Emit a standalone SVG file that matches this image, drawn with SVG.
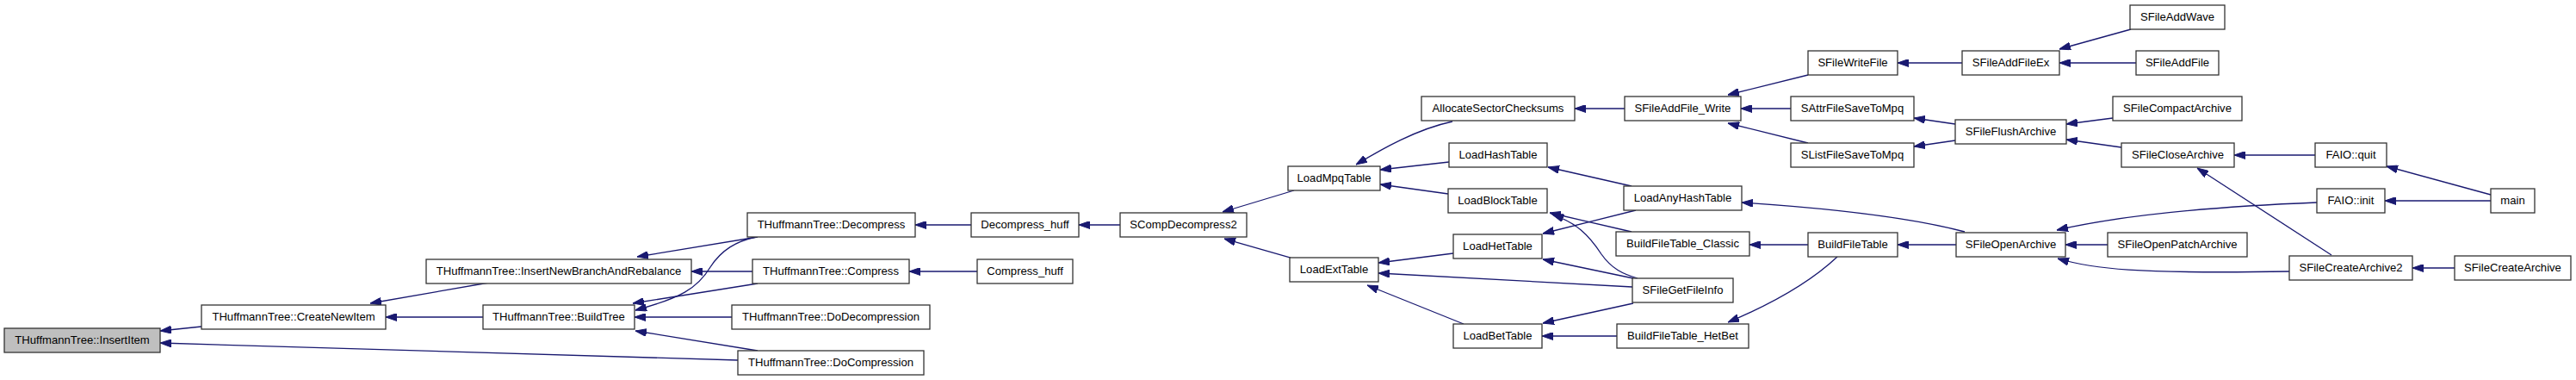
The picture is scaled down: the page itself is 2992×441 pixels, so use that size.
<svg xmlns="http://www.w3.org/2000/svg" width="2992" height="441" viewBox="0 0 2992 441">
<style>
.n rect{fill:#ffffff;stroke:#333333;stroke-width:1.3}
.root rect{fill:#bfbfbf}
.n text{font-family:"Liberation Sans",Arial,sans-serif;font-size:13.1px;fill:#000000;text-anchor:middle}
#edges path{fill:none;stroke:#191970;stroke-width:1.3;marker-start:url(#ah)}
</style>
<defs>
<marker id="ah" viewBox="0 0 13 9" markerWidth="13" markerHeight="9" refX="13" refY="4.5" orient="auto-start-reverse" markerUnits="userSpaceOnUse">
<path d="M0,0 L13,4.5 L0,9 z" fill="#191970" stroke="#191970" stroke-width="1"/>
</marker>
</defs>
<rect width="2992" height="441" fill="#ffffff"/>
<g id="edges">
<path d="M186,384 L234,379"/>
<path d="M186,398 L857,418"/>
<path d="M430,352 L568,328"/>
<path d="M448,368 L561,368"/>
<path d="M740,298 L880,275"/>
<path d="M803,315 L874,315"/>
<path d="M738,360 C790,346 810,335 825,310 C838,290 855,280 878,275"/>
<path d="M735,352 L880,329"/>
<path d="M737,368 L850,368"/>
<path d="M738,384 L880,407"/>
<path d="M1063,261 L1128,261"/>
<path d="M1056,315 L1135,315"/>
<path d="M1253,261 L1301,261"/>
<path d="M1420,246 L1503,221"/>
<path d="M1422,277 L1499,299"/>
<path d="M1575,191 C1605,173 1645,150 1687,141"/>
<path d="M1603,197 L1683,188"/>
<path d="M1603,214 L1682,225"/>
<path d="M1601,305 L1688,294"/>
<path d="M1601,317 L1896,333"/>
<path d="M1588,331 L1700,376"/>
<path d="M1798,194 L1895,216"/>
<path d="M1800,247 L1895,269"/>
<path d="M1803,249 C1830,258 1845,272 1860,295 C1872,312 1885,318 1902,323"/>
<path d="M1792,271 L1900,244"/>
<path d="M1792,301 L1897,323"/>
<path d="M1792,375 L1897,352"/>
<path d="M1791,390 L1878,390"/>
<path d="M1829,126 L1887,126"/>
<path d="M2007,110 L2100,87"/>
<path d="M2022,126 L2080,126"/>
<path d="M2007,143 L2100,166"/>
<path d="M2204,73 L2279,73"/>
<path d="M2223,137 L2271,144"/>
<path d="M2223,170 L2271,163"/>
<path d="M2392,57 L2475,34"/>
<path d="M2392,73 L2481,73"/>
<path d="M2400,144 L2454,137"/>
<path d="M2400,162 L2464,171"/>
<path d="M2595,180 L2689,180"/>
<path d="M2552,195 L2708,296"/>
<path d="M2772,193 L2893,226"/>
<path d="M2770,233 L2893,233"/>
<path d="M2389,267 C2450,253 2540,241 2691,235"/>
<path d="M2399,284 L2448,284"/>
<path d="M2390,300 C2430,312 2480,318 2659,315"/>
<path d="M2802,311 L2851,311"/>
<path d="M2023,235 C2100,240 2210,250 2282,269"/>
<path d="M2032,284 L2100,284"/>
<path d="M2204,284 L2272,284"/>
<path d="M2007,374 C2050,356 2100,330 2134,298"/>
</g>
<g id="n_InsertItem" class="n root"><rect x="5" y="381" width="181" height="28"/><text x="95.5" y="399">THuffmannTree::InsertItem</text></g>
<g id="n_CreateNewItem" class="n"><rect x="234" y="354" width="214" height="28"/><text x="341" y="372">THuffmannTree::CreateNewItem</text></g>
<g id="n_InsertNewBranchAndRebalance" class="n"><rect x="495" y="301" width="308" height="28"/><text x="649" y="319">THuffmannTree::InsertNewBranchAndRebalance</text></g>
<g id="n_BuildTree" class="n"><rect x="561" y="354" width="176" height="28"/><text x="649" y="372">THuffmannTree::BuildTree</text></g>
<g id="n_Decompress" class="n"><rect x="868" y="247" width="195" height="28"/><text x="965.5" y="265">THuffmannTree::Decompress</text></g>
<g id="n_Compress" class="n"><rect x="874" y="301" width="182" height="28"/><text x="965" y="319">THuffmannTree::Compress</text></g>
<g id="n_DoDecompression" class="n"><rect x="850" y="354" width="230" height="28"/><text x="965" y="372">THuffmannTree::DoDecompression</text></g>
<g id="n_DoCompression" class="n"><rect x="857" y="407" width="216" height="28"/><text x="965" y="425">THuffmannTree::DoCompression</text></g>
<g id="n_Decompress_huff" class="n"><rect x="1128" y="247" width="125" height="28"/><text x="1190.5" y="265">Decompress_huff</text></g>
<g id="n_Compress_huff" class="n"><rect x="1135" y="301" width="111" height="28"/><text x="1190.5" y="319">Compress_huff</text></g>
<g id="n_SCompDecompress2" class="n"><rect x="1301" y="247" width="147" height="28"/><text x="1374.5" y="265">SCompDecompress2</text></g>
<g id="n_LoadMpqTable" class="n"><rect x="1496" y="193" width="107" height="28"/><text x="1549.5" y="211">LoadMpqTable</text></g>
<g id="n_LoadExtTable" class="n"><rect x="1498" y="299" width="103" height="28"/><text x="1549.5" y="317">LoadExtTable</text></g>
<g id="n_AllocateSectorChecksums" class="n"><rect x="1651" y="112" width="178" height="28"/><text x="1740" y="130">AllocateSectorChecksums</text></g>
<g id="n_LoadHashTable" class="n"><rect x="1683" y="166" width="114" height="28"/><text x="1740" y="184">LoadHashTable</text></g>
<g id="n_LoadBlockTable" class="n"><rect x="1682" y="219" width="115" height="28"/><text x="1739.5" y="237">LoadBlockTable</text></g>
<g id="n_LoadHetTable" class="n"><rect x="1688" y="272" width="103" height="28"/><text x="1739.5" y="290">LoadHetTable</text></g>
<g id="n_LoadBetTable" class="n"><rect x="1688" y="376" width="103" height="28"/><text x="1739.5" y="394">LoadBetTable</text></g>
<g id="n_SFileAddFile_Write" class="n"><rect x="1887" y="112" width="135" height="28"/><text x="1954.5" y="130">SFileAddFile_Write</text></g>
<g id="n_LoadAnyHashTable" class="n"><rect x="1886" y="216" width="137" height="28"/><text x="1954.5" y="234">LoadAnyHashTable</text></g>
<g id="n_BuildFileTable_Classic" class="n"><rect x="1877" y="269" width="155" height="28"/><text x="1954.5" y="287">BuildFileTable_Classic</text></g>
<g id="n_SFileGetFileInfo" class="n"><rect x="1896" y="323" width="117" height="28"/><text x="1954.5" y="341">SFileGetFileInfo</text></g>
<g id="n_BuildFileTable_HetBet" class="n"><rect x="1878" y="376" width="153" height="28"/><text x="1954.5" y="394">BuildFileTable_HetBet</text></g>
<g id="n_SFileWriteFile" class="n"><rect x="2100" y="59" width="104" height="28"/><text x="2152" y="77">SFileWriteFile</text></g>
<g id="n_SAttrFileSaveToMpq" class="n"><rect x="2080" y="112" width="143" height="28"/><text x="2151.5" y="130">SAttrFileSaveToMpq</text></g>
<g id="n_SListFileSaveToMpq" class="n"><rect x="2080" y="166" width="143" height="28"/><text x="2151.5" y="184">SListFileSaveToMpq</text></g>
<g id="n_BuildFileTable" class="n"><rect x="2100" y="270" width="104" height="28"/><text x="2152" y="288">BuildFileTable</text></g>
<g id="n_SFileAddFileEx" class="n"><rect x="2279" y="59" width="113" height="28"/><text x="2335.5" y="77">SFileAddFileEx</text></g>
<g id="n_SFileFlushArchive" class="n"><rect x="2271" y="139" width="129" height="28"/><text x="2335.5" y="157">SFileFlushArchive</text></g>
<g id="n_SFileOpenArchive" class="n"><rect x="2272" y="270" width="127" height="28"/><text x="2335.5" y="288">SFileOpenArchive</text></g>
<g id="n_SFileAddWave" class="n"><rect x="2474" y="6" width="110" height="28"/><text x="2529" y="24">SFileAddWave</text></g>
<g id="n_SFileAddFile" class="n"><rect x="2481" y="59" width="96" height="28"/><text x="2529" y="77">SFileAddFile</text></g>
<g id="n_SFileCompactArchive" class="n"><rect x="2454" y="112" width="150" height="28"/><text x="2529" y="130">SFileCompactArchive</text></g>
<g id="n_SFileCloseArchive" class="n"><rect x="2464" y="166" width="131" height="28"/><text x="2529.5" y="184">SFileCloseArchive</text></g>
<g id="n_SFileOpenPatchArchive" class="n"><rect x="2448" y="270" width="162" height="28"/><text x="2529" y="288">SFileOpenPatchArchive</text></g>
<g id="n_FAIO_quit" class="n"><rect x="2689" y="166" width="83" height="28"/><text x="2730.5" y="184">FAIO::quit</text></g>
<g id="n_FAIO_init" class="n"><rect x="2691" y="219" width="79" height="28"/><text x="2730.5" y="237">FAIO::init</text></g>
<g id="n_SFileCreateArchive2" class="n"><rect x="2659" y="297" width="143" height="28"/><text x="2730.5" y="315">SFileCreateArchive2</text></g>
<g id="n_main" class="n"><rect x="2893" y="219" width="51" height="28"/><text x="2918.5" y="237">main</text></g>
<g id="n_SFileCreateArchive" class="n"><rect x="2851" y="297" width="135" height="28"/><text x="2918.5" y="315">SFileCreateArchive</text></g>
</svg>
